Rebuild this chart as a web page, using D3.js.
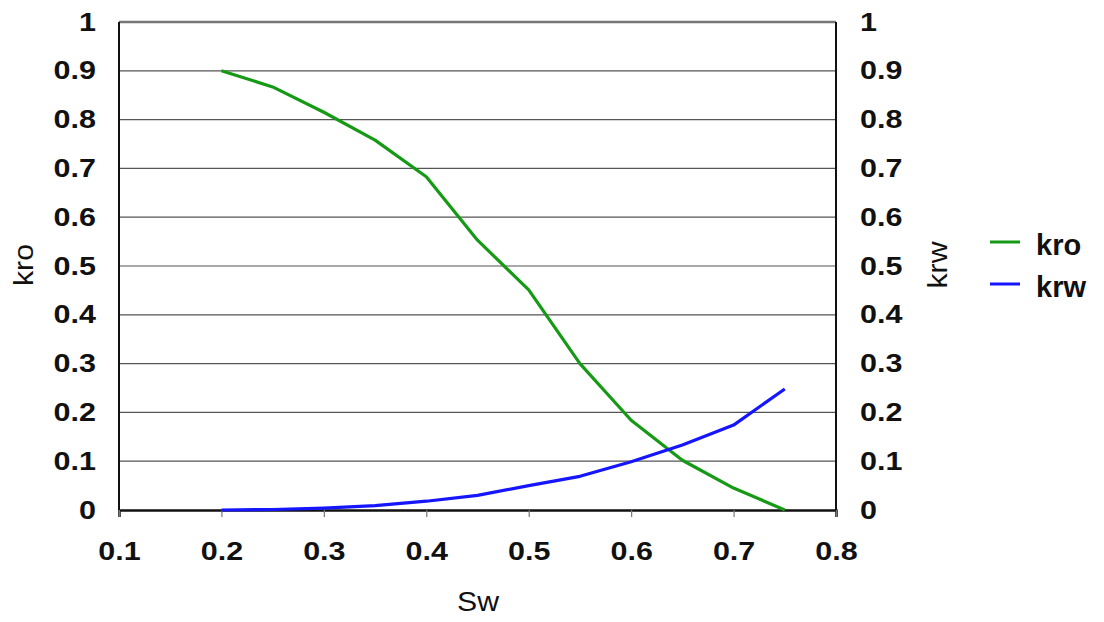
<!DOCTYPE html>
<html><head><meta charset="utf-8">
<script src="https://cdn.jsdelivr.net/npm/d3@7/dist/d3.min.js"></script>
<style>body{margin:0;background:#fff;} text{font-family:"Liberation Sans",Arial,sans-serif;}</style>
</head><body>
<svg id="c" width="1104" height="622"></svg>
<script>
const sw  = [0.2, 0.25, 0.3, 0.35, 0.4, 0.45, 0.5, 0.55, 0.6, 0.65, 0.7, 0.75];
const kro = [0.9, 0.867, 0.815, 0.758, 0.683, 0.553, 0.451, 0.30, 0.184, 0.102, 0.045, 0.0];
const krw = [0.0, 0.001, 0.004, 0.009, 0.018, 0.03, 0.05, 0.069, 0.099, 0.133, 0.174, 0.248];
const xTicks = [0.1, 0.2, 0.3, 0.4, 0.5, 0.6, 0.7, 0.8];
const yTicks = [0, 0.1, 0.2, 0.3, 0.4, 0.5, 0.6, 0.7, 0.8, 0.9, 1];
const seriesNames = ["kro", "krw"];
const seriesColors = ["#169a16", "#1515ff"];

const L = 119, R = 836, T = 22, B = 510;
const SX = 1.22; // horizontal glyph stretch of tick labels
const svg = d3.select("#c");
const x = d3.scaleLinear().domain([0.1, 0.8]).range([L, R]);
const y = d3.scaleLinear().domain([0, 1]).range([B, T]);
const y2 = d3.scaleLinear().domain([0, 1]).range([B, T]);

// gridlines
svg.append("g").selectAll("line").data(yTicks.filter(d => d > 0)).join("line")
  .attr("x1", L).attr("x2", R).attr("y1", d => y(d)).attr("y2", d => y(d))
  .attr("stroke", d => d === 1 ? "#777" : "#555").attr("stroke-width", d => d === 1 ? 2.5 : 1.2);

// frame
svg.append("line").attr("x1", L).attr("x2", L).attr("y1", T).attr("y2", B).attr("stroke", "#111").attr("stroke-width", 2);
svg.append("line").attr("x1", R).attr("x2", R).attr("y1", T).attr("y2", B).attr("stroke", "#111").attr("stroke-width", 2);

function styleTicks(g) {
  g.selectAll("text").attr("font-size", 25).attr("font-weight", "bold").attr("fill", "#111")
    .each(function() {
      const t = d3.select(this);
      const xv = +t.attr("x") || 0;
      t.attr("x", xv / SX).attr("transform", `scale(${SX},1)`);
    });
}

// axes
const xAxis = d3.axisBottom(x).tickValues(xTicks).tickFormat(d3.format("")).tickSize(7).tickPadding(25);
const gx = svg.append("g").attr("transform", `translate(0,${B})`).call(xAxis);
gx.select(".domain").attr("stroke", "#111").attr("stroke-width", 2.5);
gx.selectAll(".tick line").attr("stroke", "#777").attr("stroke-width", 1.2);
styleTicks(gx);

const yAxis = d3.axisLeft(y).tickValues(yTicks).tickFormat(d3.format("")).tickSize(0).tickPadding(23);
const gy = svg.append("g").attr("transform", `translate(${L},0)`).call(yAxis);
gy.select(".domain").remove();
styleTicks(gy);

const yAxis2 = d3.axisRight(y2).tickValues(yTicks).tickFormat(d3.format("")).tickSize(0).tickPadding(24);
const gy2 = svg.append("g").attr("transform", `translate(${R},0)`).call(yAxis2);
gy2.select(".domain").remove();
styleTicks(gy2);

// lines
const line = d3.line().x((d, i) => x(sw[i])).y(d => y(d));
[kro, krw].forEach((s, k) => {
  svg.append("path").datum(s).attr("d", line).attr("fill", "none")
    .attr("stroke", seriesColors[k]).attr("stroke-width", 3.2).attr("stroke-linejoin", "round");
});

// axis titles
svg.append("text").attr("transform", "translate(478,611) scale(1.12,1)").attr("text-anchor", "middle").attr("font-size", 27).attr("fill", "#111").text("Sw");
svg.append("text").attr("transform", "translate(33,265) rotate(-90) scale(1.12,1)").attr("text-anchor", "middle").attr("font-size", 27).attr("fill", "#111").text("kro");
svg.append("text").attr("transform", "translate(947,265) rotate(-90) scale(1.12,1)").attr("text-anchor", "middle").attr("font-size", 27).attr("fill", "#111").text("krw");

// legend
seriesNames.forEach((n, i) => {
  const ly = 242 + i * 42;
  svg.append("line").attr("x1", 990).attr("x2", 1020).attr("y1", ly).attr("y2", ly).attr("stroke", seriesColors[i]).attr("stroke-width", 3);
  svg.append("text").attr("x", 1036).attr("y", ly + 13).attr("font-size", 29).attr("font-weight", "bold").attr("fill", "#111").text(n);
});
</script>
</body></html>
